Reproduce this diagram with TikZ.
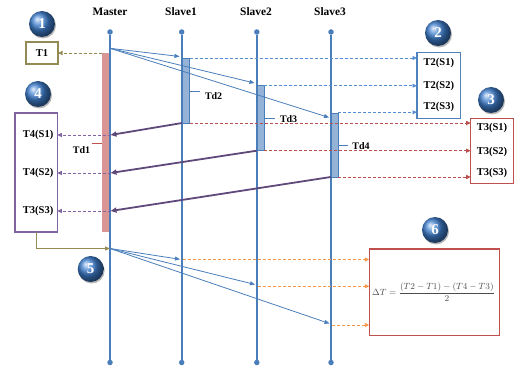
\documentclass[tikz,border=0pt]{standalone}
\usepackage{fontspec}
\setmainfont{Liberation Serif}
\usetikzlibrary{arrows.meta,shadings,shadows}
\definecolor{lifec}{HTML}{4A7EBB}
\definecolor{sbarf}{HTML}{95B3D7}
\definecolor{mbarf}{HTML}{D99694}
\definecolor{purpthick}{HTML}{5F497A}
\definecolor{purpd}{HTML}{8064A2}
\definecolor{redd}{HTML}{B9504D}
\definecolor{blued}{HTML}{558ED5}
\definecolor{orad}{HTML}{F79646}
\definecolor{olivec}{HTML}{948A54}
\definecolor{boxblue}{HTML}{4F81BD}
\definecolor{boxred}{HTML}{C0504D}
\definecolor{ballc}{HTML}{3F7FCF}
\definecolor{formc}{HTML}{4D4D4D}
\definecolor{shadc}{HTML}{B8B8B8}
\begin{document}
\begin{tikzpicture}[x=1pt,y=-1pt,
  title/.style={font=\fontsize{11.4}{12}\selectfont\bfseries, inner sep=0pt},
  lbl/.style={font=\fontsize{10.5}{12}\selectfont\bfseries, inner sep=0pt},
  tdl/.style={font=\fontsize{10}{12}\selectfont\bfseries, inner sep=0pt, anchor=west},
  dot/.style={circle, fill=lifec, inner sep=0pt, minimum size=5.5pt},
  life/.style={draw=lifec, line width=1.8pt},
  sbar/.style={draw=lifec, fill=sbarf, line width=0.6pt, inner sep=0pt, outer sep=0pt, minimum width=7.5pt},
  mbar/.style={fill=mbarf, inner sep=0pt, outer sep=0pt, minimum width=8pt},
  msg/.style={draw=lifec, line width=0.8pt, -{Triangle[length=5pt,width=4pt]}},
  thick msg/.style={draw=purpthick, line width=1.8pt, -{Triangle[length=6pt,width=5pt]}},
  dsh/.style={line width=0.9pt, dash pattern=on 3pt off 2pt, -{Triangle[length=4.5pt,width=4pt]}},
  tbox/.style={draw, line width=1.3pt, inner sep=0pt, outer sep=0pt},
  ball/.style={circle, minimum size=26pt, inner sep=0pt, shading=ball, ball color=ballc,
     text=white, font=\fontsize{15}{15}\selectfont\bfseries,
     preaction={fill=shadc, transform canvas={xshift=1pt, yshift=-1.5pt}}},
  tick/.style={line width=0.9pt}
]
\useasboundingbox (0,0) rectangle (516,371);

% titles
\node[title] (tM) at (110,12) {Master};
\node[title] (tS1) at (181,12) {Slave1};
\node[title] (tS2) at (256,12) {Slave2};
\node[title] (tS3) at (330,12) {Slave3};

% activation bars
\node[mbar, minimum height=179pt] (mb) at (106,142.5) {};
\node[sbar, minimum height=65pt] (b1) at (185.75,90.5) {};
\node[sbar, minimum height=65pt] (b2) at (260.5,118.2) {};
\node[sbar, minimum height=64pt] (b3) at (334.5,145) {};

% lifelines
\foreach \n/\x in {m/110, a/181.7, b/256.8, c/331} {
  \node[dot] (\n top) at (\x,32) {};
  \node[dot] (\n bot) at (\x,362.5) {};
  \draw[life] (\n top) -- (\n bot);
}

% boxes
\node[tbox, draw=olivec, minimum width=32pt, minimum height=22pt] (t1) at (42,53) {};
\node[lbl] (t1l) at (t1) {T1};
\node[tbox, draw=boxblue, minimum width=43.7pt, minimum height=66pt] (t2) at (438.85,85.3) {};
\node[lbl] (t2a) at (438.85,63.3) {T2(S1)};
\node[lbl] (t2b) at (438.85,85.7) {T2(S2)};
\node[lbl] (t2c) at (438.85,107.3) {T2(S3)};
\node[tbox, draw=boxred, minimum width=42.6pt, minimum height=65pt] (t3) at (492,150.8) {};
\node[lbl] (t3a) at (492,128) {T3(S1)};
\node[lbl] (t3b) at (492,151.7) {T3(S2)};
\node[lbl] (t3c) at (492,173.3) {T3(S3)};
\node[tbox, draw=purpd, minimum width=42.3pt, minimum height=119pt] (t4) at (36.15,172.5) {};
\node[lbl, anchor=east] (t4a) at (53.5,135) {T4(S1)};
\node[lbl, anchor=east] (t4b) at (53.5,173) {T4(S2)};
\node[lbl, anchor=east] (t4c) at (53.5,211) {T3(S3)};
\node[inner sep=0pt, text=formc, font=\fontsize{9}{11}\selectfont] (f6) at (433.5,292.5)
  {$\displaystyle \Delta T=\frac{(T2-T1)-(T4-T3)}{2}$};
\node[tbox, draw=boxred, line width=1.5pt, minimum width=130pt, minimum height=86.5pt] (t6) at (434.3,292.3) {};

% circles
\node[ball] (c1) at (42,24) {1};
\node[ball] (c2) at (438,33) {2};
\node[ball] (c3) at (491,100) {3};
\node[ball] (c4) at (38,94) {4};
\node[ball] (c5) at (90.7,269) {5};
\node[ball] (c6) at (435,230) {6};

% step 1: T1
\draw[dsh, draw=olivec] (mb.north west) -- (mb.north west -| t1.east);

% master sends
\coordinate (m0) at (110,48.3);
\coordinate (s1in) at (179.5,56.5);
\coordinate (s2in) at (254.5,83);
\coordinate (s3in) at (329,117.5);
\draw[msg] (m0) -- (s1in);
\draw[msg] (m0) -- (s2in);
\draw[msg] (m0) -- (s3in);

% T2 arrows
\draw[dsh, draw=blued] (b1.north east) -- (b1.north east -| t2.west);
\draw[dsh, draw=blued] (b2.north east) -- (b2.north east -| t2.west);
\draw[dsh, draw=blued] (b3.north east) ++(0,-0.7) coordinate (b3n) -- (b3n -| t2.west);

% T3 arrows
\draw[dsh, draw=redd] (b1.south east) -- (b1.south east -| t3.west);
\draw[dsh, draw=redd] (b2.south east) -- (b2.south east -| t3.west);
\draw[dsh, draw=redd] (b3.south east) -- (b3.south east -| t3.west);

% replies
\coordinate (r1) at (110.5,135);
\coordinate (r2) at (110.5,173);
\coordinate (r3) at (110.5,211);
\draw[thick msg] (b1.south west) -- (r1);
\draw[thick msg] (b2.south west) -- (r2);
\draw[thick msg] (b3.south west) -- (r3);
\draw[dsh, draw=purpd] (r1) -- (r1 -| t4.east);
\draw[dsh, draw=purpd] (r2) -- (r2 -| t4.east);
\draw[dsh, draw=purpd] (r3) -- (r3 -| t4.east);

% Td labels
\node[tdl] (td1) at (72.7,150) {Td1};
\draw[tick, draw=boxred] (92.3,143.3) -- (mb.west |- 0,143.3);
\node[tdl] (td2) at (204.8,95.7) {Td2};
\draw[tick, draw=lifec] (b1.east |- 0,91) -- ++(10,0);
\node[tdl] (td3) at (279.8,118.6) {Td3};
\draw[tick, draw=lifec] (b2.east |- 0,118) -- ++(11,0);
\node[tdl] (td4) at (352.2,145.7) {Td4};
\draw[tick, draw=lifec] (b3.east |- 0,145.3) -- ++(10,0);

% step 5
\coordinate (m5) at (110,248.5);
\draw[line width=0.9pt, draw=olivec, -{Triangle[length=5pt,width=4pt]}] (t4.south) |- (m5);
\coordinate (u1) at (180,259.3);
\coordinate (u2) at (255,284.5);
\coordinate (u3) at (329.5,323.5);
\draw[msg] (m5) -- (u1);
\draw[msg] (m5) -- (u2);
\draw[msg] (m5) -- (u3);
\coordinate (o1) at (182.5,259.5);
\coordinate (o2) at (257.5,286.3);
\coordinate (o3) at (332,325);
\draw[dsh, draw=orad] (o1) -- (o1 -| t6.west);
\draw[dsh, draw=orad] (o2) -- (o2 -| t6.west);
\draw[dsh, draw=orad] (o3) -- (o3 -| t6.west);
\end{tikzpicture}
\end{document}
